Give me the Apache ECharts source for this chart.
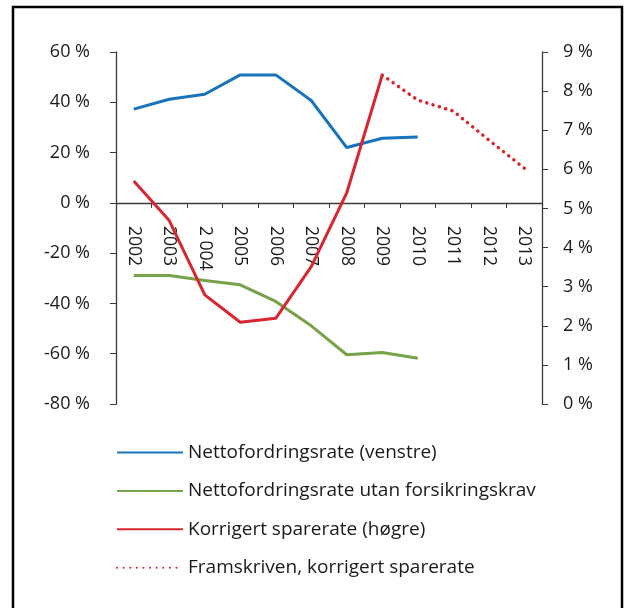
<!DOCTYPE html>
<html>
<head>
<meta charset="utf-8">
<script src="https://cdn.jsdelivr.net/npm/echarts@6/dist/echarts.min.js"></script>
<style>
  html, body { margin: 0; padding: 0; background: #fff; }
  #main { width: 624px; height: 608px; }
</style>
</head>
<body>
<div id="main"></div>
<script>
// år på x-aksen
const years = ['2002', '2003', '2 004', '2005', '2006', '2007', '2008', '2009', '2010', '2011', '2012', '2013'];

// venstre akse, prosent
const netto = [37.3, 41.2, 43.2, 50.9, 50.9, 40.7, 22.0, 25.7, 26.2, null, null, null];
const nettoUtan = [-28.9, -28.9, -30.9, -32.6, -39.2, -48.9, -60.4, -59.5, -61.8, null, null, null];

// høgre akse, prosent
const sparerate = [5.70, 4.69, 2.79, 2.09, 2.19, 3.51, 5.40, 8.41, null, null, null, null];
const framskriven = [null, null, null, null, null, null, null, 8.41, 7.77, 7.49, 6.75, 6.03];

const names = [
  'Nettofordringsrate (venstre)',
  'Nettofordringsrate utan forsikringskrav',
  'Korrigert sparerate (høgre)',
  'Framskriven, korrigert sparerate'
];

const font = 'Open Sans';
const axisColor = '#3a3a3a';
const textColor = '#1a1a1a';

const chart = echarts.init(document.getElementById('main'));

const option = {
  animation: false,
  textStyle: { fontFamily: font },
  grid: { left: 116, right: 82, top: 52, bottom: 204 },
  graphic: [{
    type: 'rect',
    shape: { x: 13, y: 7, width: 609, height: 610 },
    style: { fill: 'none', stroke: '#000', lineWidth: 2.5 }
  }],
  legend: {
    orient: 'vertical',
    left: 116,
    top: 443,
    padding: 0,
    itemWidth: 66,
    itemHeight: 14,
    itemGap: 19.4,
    itemStyle: { opacity: 0 },
    textStyle: { fontSize: 19, color: textColor, fontFamily: font },
    data: names
  },
  xAxis: {
    type: 'category',
    data: years,
    boundaryGap: true,
    position: 'bottom',
    // aksen ligg på 0 % på venstre akse
    offset: -201,
    axisLine: { onZero: false, lineStyle: { color: axisColor, width: 1.3 } },
    axisTick: { show: true, inside: false, length: 5, lineStyle: { color: axisColor } },
    axisLabel: { rotate: -90, fontSize: 17.5, color: textColor, margin: 23, interval: 0 },
    splitLine: { show: false }
  },
  yAxis: [{
    type: 'value',
    min: -80, max: 60, interval: 20,
    position: 'left',
    axisLine: { show: true, onZero: false, lineStyle: { color: axisColor, width: 1.3 } },
    axisTick: { show: true, length: 6, lineStyle: { color: axisColor } },
    axisLabel: { formatter: '{value} %', fontSize: 18, color: textColor, margin: 26 },
    splitLine: { show: false }
  }, {
    type: 'value',
    min: 0, max: 9, interval: 1,
    position: 'right',
    axisLine: { show: true, onZero: false, lineStyle: { color: axisColor, width: 1.3 } },
    axisTick: { show: true, length: 6, lineStyle: { color: axisColor } },
    axisLabel: { formatter: '{value} %', fontSize: 18, color: textColor, margin: 21 },
    splitLine: { show: false }
  }],
  series: [{
    name: names[0],
    type: 'line',
    yAxisIndex: 0,
    data: netto,
    symbol: 'none',
    lineStyle: { color: '#1773bb', width: 3 },
    itemStyle: { color: '#1773bb' }
  }, {
    name: names[1],
    type: 'line',
    yAxisIndex: 0,
    data: nettoUtan,
    symbol: 'none',
    lineStyle: { color: '#76a248', width: 3 },
    itemStyle: { color: '#76a248' }
  }, {
    name: names[2],
    type: 'line',
    yAxisIndex: 1,
    data: sparerate,
    symbol: 'none',
    lineStyle: { color: '#d7262f', width: 3 },
    itemStyle: { color: '#d7262f' }
  }, {
    name: names[3],
    type: 'line',
    yAxisIndex: 1,
    data: framskriven,
    symbol: 'none',
    lineStyle: { color: '#d7262f', width: 3.5, type: [0.1, 6.5], cap: 'round' },
    itemStyle: { color: '#d7262f' }
  }]
};

chart.setOption(option);
</script>
</body>
</html>
